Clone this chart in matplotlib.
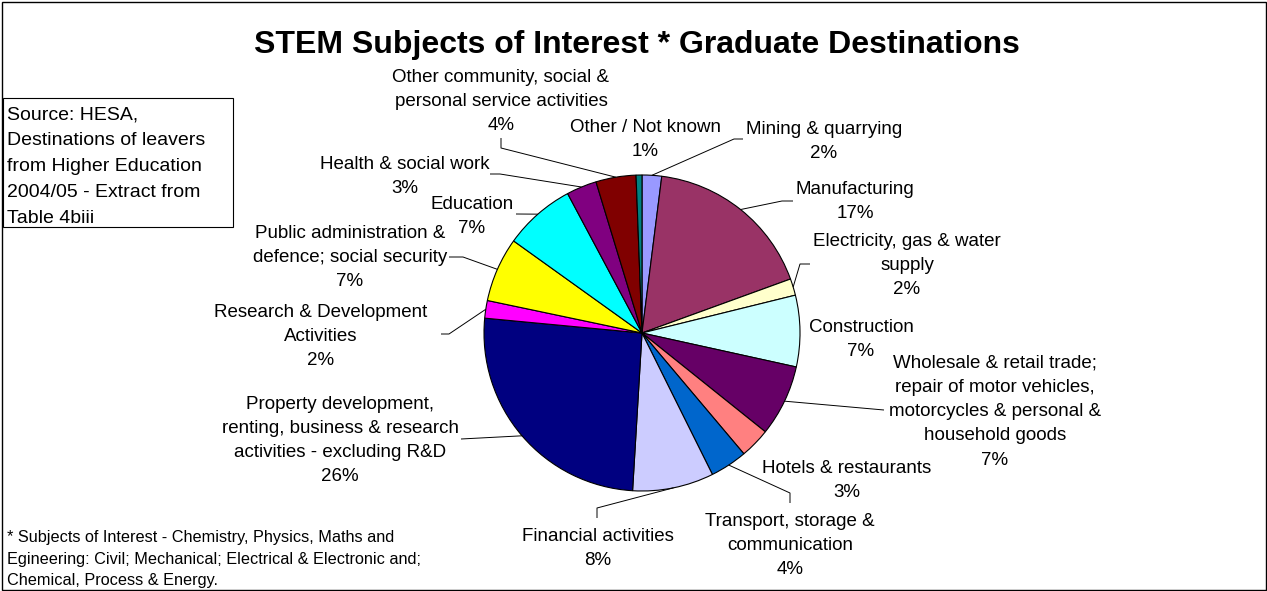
import matplotlib
matplotlib.use("Agg")
import matplotlib.pyplot as plt
from matplotlib.patches import Rectangle
import numpy as np

W, H = 1267, 591

# ---- data ----
categories = [
    "Mining & quarrying",
    "Manufacturing",
    "Electricity, gas & water\nsupply",
    "Construction",
    "Wholesale & retail trade;\nrepair of motor vehicles,\nmotorcycles & personal &\nhousehold goods",
    "Hotels & restaurants",
    "Transport, storage &\ncommunication",
    "Financial activities",
    "Property development,\nrenting, business & research\nactivities - excluding R&D",
    "Research & Development\nActivities",
    "Public administration &\ndefence; social security",
    "Education",
    "Health & social work",
    "Other community, social &\npersonal service activities",
    "Other / Not known",
]
values = [2.0, 17.45, 1.7, 7.3, 7.3, 3.1, 3.8, 8.3, 25.55, 1.8, 6.6, 7.3, 3.1, 4.1, 0.6]
colors = ["#9999FF", "#993366", "#FFFFCC", "#CCFFFF", "#660066", "#FF8080",
          "#0066CC", "#CCCCFF", "#000080", "#FF00FF", "#FFFF00", "#00FFFF",
          "#800080", "#800000", "#008080"]

title = "STEM Subjects of Interest * Graduate Destinations"
source_text = ("Source: HESA,\nDestinations of leavers\nfrom Higher Education\n"
               "2004/05 - Extract from\nTable 4biii")
footnote = ("* Subjects of Interest - Chemistry, Physics, Maths and\n"
            "Egineering: Civil; Mechanical; Electrical & Electronic and;\n"
            "Chemical, Process & Energy.")

# ---- layout (pixel coords, y from top; label y = centre of first line) ----
label_pos = [(824, 128), (855, 188), (907, 240), (861, 326), (995, 362),
             (847, 467), (790, 520), (598, 535), (340, 403), (321, 311),
             (350, 232), (472, 203), (405, 163), (501, 76), (645, 126)]
leaders = [[(734, 139), (743, 139)], [(782, 201), (793, 201)],
           [(800, 264), (810, 264)], None, [(884, 410)], None,
           [(790, 493), (790, 503)], [(597, 508), (597, 518)],
           [(461, 439)], [(449, 334), (441, 334)], [(463, 257), (449, 257)],
           [(516, 214)], [(500, 174), (490, 174)], [(501, 148), (501, 138)],
           None]

FONT = ["Liberation Sans", "DejaVu Sans"]
plt.rcParams["font.family"] = FONT

def Y(y):
    return H - y

fig = plt.figure(figsize=(W / 100, H / 100), dpi=100)
ax = fig.add_axes([0, 0, 1, 1])
cx, cy, r = 642, Y(333), 158
wedges, _ = ax.pie(values, colors=colors, startangle=90, counterclock=False,
                   center=(cx, cy), radius=r,
                   wedgeprops=dict(edgecolor="black", linewidth=0.8))
ax.set_xlim(0, W)
ax.set_ylim(0, H)
ax.set_aspect("equal")
ax.axis("off")

total = sum(values)
lab_fs = 13.5
for i, (w, name) in enumerate(zip(wedges, categories)):
    pct = values[i] / total * 100
    txt = f"{name}\n{pct:.0f}%"
    lx, ly = label_pos[i]
    ax.text(lx, Y(ly - 7), txt, ha="center", va="top", multialignment="center",
            fontsize=lab_fs, linespacing=1.55, color="black")
    if leaders[i]:
        ang = np.deg2rad((w.theta1 + w.theta2) / 2)
        xs = [cx + r * np.cos(ang)] + [p[0] for p in leaders[i]]
        ys = [cy + r * np.sin(ang)] + [Y(p[1]) for p in leaders[i]]
        ax.plot(xs, ys, color="black", lw=0.7, solid_capstyle="butt")

# title
ax.text(636.5, Y(53), title, ha="center", va="baseline", fontsize=23,
        fontweight="bold")

# source box
ax.add_patch(Rectangle((2.5, Y(227)), 230.5, 129, fill=False, edgecolor="black", lw=0.8))
ax.text(7, Y(112 - 6), source_text, ha="left", va="top", fontsize=14, linespacing=1.7)

# footnote
ax.text(7, Y(536 - 6), footnote, ha="left", va="top", fontsize=11.7, linespacing=1.56)

# outer border
ax.add_patch(Rectangle((1.5, 1.5), W - 3, H - 3, fill=False, edgecolor="black", lw=1.0))

fig.savefig("out.png", dpi=100)
